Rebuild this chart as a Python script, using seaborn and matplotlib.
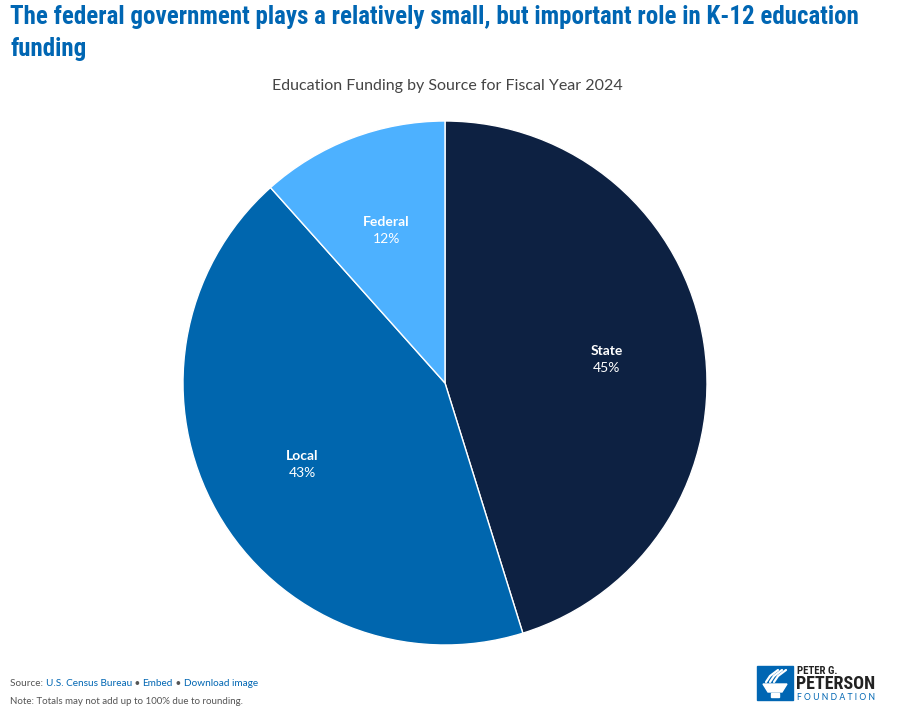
import matplotlib.pyplot as plt
import matplotlib.patches as mpatches
from matplotlib import font_manager
import numpy as np
import seaborn as sns

sns.set_theme(style='white')
plt.rcParams['font.family'] = ['Lato', 'DejaVu Sans']

# data
sources = ['State', 'Local', 'Federal']
shares = [45.2, 43.2, 11.6]
pct_labels = ['45%', '43%', '12%']
colors = ['#0d2142', '#0066ae', '#4db1ff']

title = 'The federal government plays a relatively small, but important role in K-12 education\nfunding'
subtitle = 'Education Funding by Source for Fiscal Year 2024'

# a condensed face for the headline if one is installed
installed = {f.name for f in font_manager.fontManager.ttflist}
cond = [n for n in ['Roboto Condensed', 'Open Sans Condensed', 'Liberation Sans Narrow',
                    'DejaVu Sans Condensed'] if n in installed]
title_family = [cond[0] if cond else 'Lato', 'DejaVu Sans']

W, H = 897, 728
fig = plt.figure(figsize=(W / 100, H / 100), dpi=100)

cx, cy, r = 445, 383, 262
ax = fig.add_axes([(cx - r) / W, (H - cy - r) / H, 2 * r / W, 2 * r / H])
ax.pie(shares, colors=colors, startangle=90, counterclock=False,
       wedgeprops=dict(edgecolor='white', linewidth=1))
ax.set_xlim(-1, 1)
ax.set_ylim(-1, 1)
ax.set_aspect('equal')
ax.axis('off')

# slice labels at mid-angle
start = 90.0
for name, val, pl in zip(sources, shares, pct_labels):
    sweep = val / sum(shares) * 360
    mid = np.deg2rad(start - sweep / 2)
    start -= sweep
    x, y = 0.625 * np.cos(mid), 0.625 * np.sin(mid)
    ax.text(x, y + 0.03, name, ha='center', va='center', color='white',
            fontsize=10, fontweight='bold')
    ax.text(x, y - 0.035, pl, ha='center', va='center', color='white', fontsize=10)

# titles
tt = fig.text(10 / W, 1 - 5 / H, title, ha='left', va='top', color='#0066b3',
              fontsize=19.5, fontweight='bold', family=title_family, linespacing=1.4,
              fontstretch='condensed')
renderer = fig.canvas.get_renderer()
w = tt.get_window_extent(renderer).width
if w > 852:
    tt.set_fontsize(19.5 * 852 / w)
fig.text(cx / W + 2 / W, 1 - 86 / H, subtitle, ha='center', va='center',
         color='#444444', fontsize=11.5)

# footer
gray, blue = '#555555', '#0066b3'
parts = [('Source: ', gray), ('U.S. Census Bureau', blue), (' \u2022 ', gray),
         ('Embed', blue), (' \u2022 ', gray), ('Download image', blue)]
t = fig.text(10 / W, 1 - 684 / H, parts[0][0], ha='left', va='center',
             color=parts[0][1], fontsize=7.2)
for txt, col in parts[1:]:
    t = plt.annotate(txt, xy=(1, 0), xycoords=t, va='bottom', ha='left',
                     color=col, fontsize=7.2)
fig.text(10 / W, 1 - 701 / H, 'Note: Totals may not add up to 100% due to rounding.',
         ha='left', va='center', color=gray, fontsize=7)

# logo: blue tile with a white torch
def px(x, y):
    return (x / W, 1 - y / H)

logo_blue = '#0066b3'
fig.patches.append(mpatches.Rectangle(px(757, 700), 36 / W, 34 / H,
                                      transform=fig.transFigure, color=logo_blue))
fig.patches.append(mpatches.Polygon([px(763, 684), px(787, 684), px(782, 692), px(768, 692)],
                                    closed=True, transform=fig.transFigure, color='white'))
fig.patches.append(mpatches.Polygon([px(771, 693), px(779, 693), px(779, 697), px(771, 697)],
                                    closed=True, transform=fig.transFigure, color='white'))
for dx in (0, 4, 8):
    xs = [px(766 + dx, 682), px(770 + dx, 676), px(778 + dx, 670)]
    fig.lines.append(plt.Line2D([p[0] for p in xs], [p[1] for p in xs],
                                transform=fig.transFigure, color='white', lw=1.6,
                                solid_capstyle='round'))

fig.text(797 / W, 1 - 670.5 / H, 'PETER G.', ha='left', va='center', color='#222222',
         fontsize=7.8, fontweight='bold', family=title_family)
fig.text(796 / W, 1 - 684 / H, 'PETERSON', ha='left', va='center', color='#222222',
         fontsize=13, fontweight='bold', family=title_family)
fig.text(797 / W, 1 - 697.5 / H, 'F O U N D A T I O N', ha='left', va='center',
         color=logo_blue, fontsize=6.2)

fig.savefig('out.png', dpi=100)
